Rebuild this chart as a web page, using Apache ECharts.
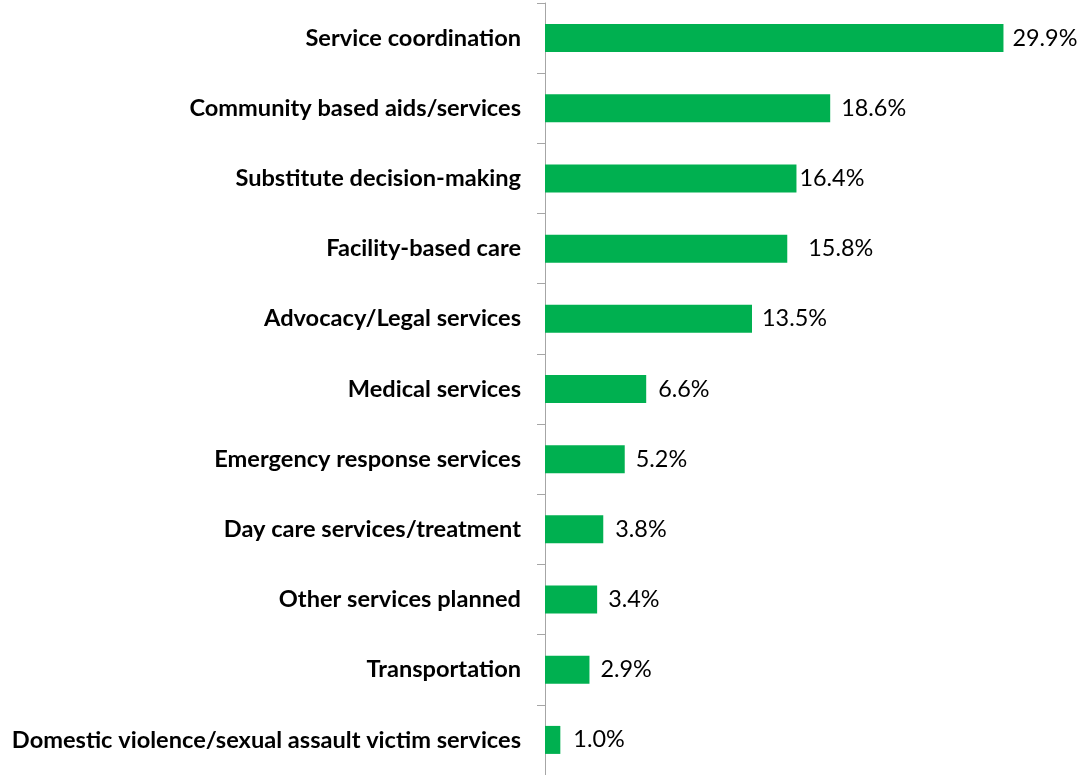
<!DOCTYPE html>
<html><head><meta charset="utf-8">
<script src="https://cdn.jsdelivr.net/npm/echarts@6/dist/echarts.min.js"></script>
<style>html,body{margin:0;padding:0;background:#fff}#c{width:1078px;height:775px}</style>
</head><body><div id="c"></div>
<script>
const categories = [
  "Service coordination",
  "Community based aids/services",
  "Substitute decision-making",
  "Facility-based care",
  "Advocacy/Legal services",
  "Medical services",
  "Emergency response services",
  "Day care services/treatment",
  "Other services planned",
  "Transportation",
  "Domestic violence/sexual assault victim services"
];
const values = [29.9, 18.6, 16.4, 15.8, 13.5, 6.6, 5.2, 3.8, 3.4, 2.9, 1.0];

// label gap (px) after each bar, as placed in the original
const labelGaps = [9, 11, 3, 21, 10, 12, 11, 12, 11, 11, 13];

const chart = echarts.init(document.getElementById('c'), null, {renderer: 'canvas'});
chart.setOption({
  animation: false,
  grid: {left: 545, top: 3, width: 460, height: 773, containLabel: false},
  xAxis: {type: 'value', min: 0, max: 30, show: false},
  yAxis: {
    type: 'category', inverse: true, data: categories,
    axisLine: {show: true, lineStyle: {color: '#a6a6a6', width: 1}},
    axisTick: {show: true, length: 8, lineStyle: {color: '#a6a6a6'}},
    axisLabel: {margin: 24, fontFamily: 'Lato', fontWeight: 'bold', fontSize: 23.6, color: '#000'}
  },
  series: [{
    type: 'bar',
    data: values.map((v, i) => ({value: v, label: {distance: labelGaps[i]}})),
    barWidth: 28,
    itemStyle: {color: '#00b050'},
    label: {show: true, position: 'right', fontFamily: 'Lato', fontSize: 23.4, color: '#000',
      formatter: p => p.value.toFixed(1) + '%'}
  }]
});
</script></body></html>
